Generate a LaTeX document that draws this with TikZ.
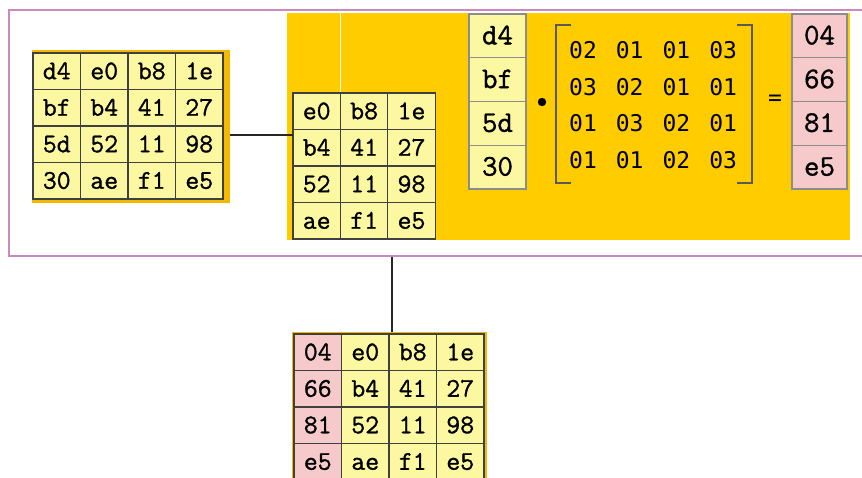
\documentclass[tikz,border=0pt]{standalone}
\usepackage{fontspec}
\newfontfamily\hexfont{Latin Modern Mono}[FakeBold=1.1]
\newfontfamily\coeffont{DejaVu Sans Mono}
\usetikzlibrary{positioning}
\definecolor{gold}{HTML}{FFCC00}
\definecolor{amber}{HTML}{F4B800}
\definecolor{cellyellow}{HTML}{FCF8A2}
\definecolor{cellpink}{HTML}{F6CACA}
\definecolor{framepink}{HTML}{CC88C0}

\begin{document}
\begin{tikzpicture}[x=1pt, y=-1pt,
  cell/.style={draw=black!75, line width=1.1pt, fill=cellyellow, inner sep=0pt,
    minimum width=47.5pt, minimum height=36.5pt, text height=16pt, text depth=0pt,
    font=\hexfont\fontsize{27}{27}\selectfont},
  vec/.style={cell, draw=black!45, minimum width=57pt, minimum height=43.75pt,
    font=\hexfont\fontsize{30}{30}\selectfont, text height=17pt},
  coef/.style={inner sep=0pt, font=\coeffont\fontsize{23}{23}\selectfont},
  box/.style={inner sep=0pt, anchor=north west}]
\useasboundingbox (0,0) rectangle (862,478);
\clip (0,0) rectangle (862,478);
% frame and the column-mixing step
\node[box, draw=framepink, line width=2pt, minimum width=870pt, minimum height=246pt] (frame) at (8,9) {};
\node[box, fill=gold, minimum width=563pt, minimum height=227pt] (step) at (287,13) {};
\draw[white, line width=0.8pt] (340,13) -- (340,93);
% state before the step
\node[box, fill=amber, minimum width=198pt, minimum height=153pt] (left) at (32,50) {};
\foreach \row [count=\r] in {{d4,e0,b8,1e},{bf,b4,41,27},{5d,52,11,98},{30,ae,f1,e5}}
  \foreach \v [count=\c] in \row
    \node[cell] (L-\r-\c) at ({33+47.5*(\c-.5)},{53+36.5*(\r-.5)}) {\v};
% remaining three columns
\node[box, minimum width=142pt, minimum height=146pt] (mid) at (293,93) {};
\foreach \row [count=\r] in {{e0,b8,1e},{b4,41,27},{52,11,98},{ae,f1,e5}}
  \foreach \v [count=\c] in \row
    \node[cell] (M-\r-\c) at ({293+47.4*(\c-.5)},{93+36.5*(\r-.5)}) {\v};
\coordinate (tie) at (0,135);
\draw[line width=1.3pt, black!85] (left.east |- tie) -- (mid.west |- tie);
% first column times the fixed matrix
\foreach \v [count=\r] in {d4,bf,5d,30}
  \node[vec] (V-\r) at (497.5,{14+43.75*(\r-.5)}) {\v};
\fill (542,102) circle (4.2);
\draw[black!65, line width=1.2pt] (571,25) -- (556,25) -- (556,183) -- (571,183);
\draw[black!65, line width=1.2pt] (737,25) -- (752,25) -- (752,183) -- (737,183);
\foreach \row [count=\r] in {{02,01,01,03},{03,02,01,01},{01,03,02,01},{01,01,02,03}}
  \foreach \v [count=\c] in \row
    \node[coef] (C-\r-\c) at ({583+46.7*(\c-1)},{50+36.7*(\r-1)}) {\v};
\node[coef] (eq) at (775,100) {=};
\foreach \v [count=\r] in {04,66,81,e5}
  \node[vec, fill=cellpink, minimum width=55pt] (R-\r) at (819.5,{14+43.75*(\r-.5)}) {\v};
% state after the step
\node[box, fill=amber, minimum width=195pt, minimum height=150pt] (low) at (292,332) {};
\foreach \v [count=\r] in {04,66,81,e5}
  \node[cell, fill=cellpink] (B-\r-1) at (317.75,{334+36.5*(\r-.5)}) {\v};
\foreach \row [count=\r] in {{e0,b8,1e},{b4,41,27},{52,11,98},{ae,f1,e5}}
  \foreach \v [count=\c from 2] in \row
    \node[cell] (B-\r-\c) at ({294+47.5*(\c-.5)},{334+36.5*(\r-.5)}) {\v};
\coordinate (tap) at (392,0);
\draw[line width=1.3pt, black!85] (frame.south -| tap) -- (low.north -| tap);
\end{tikzpicture}
\end{document}
